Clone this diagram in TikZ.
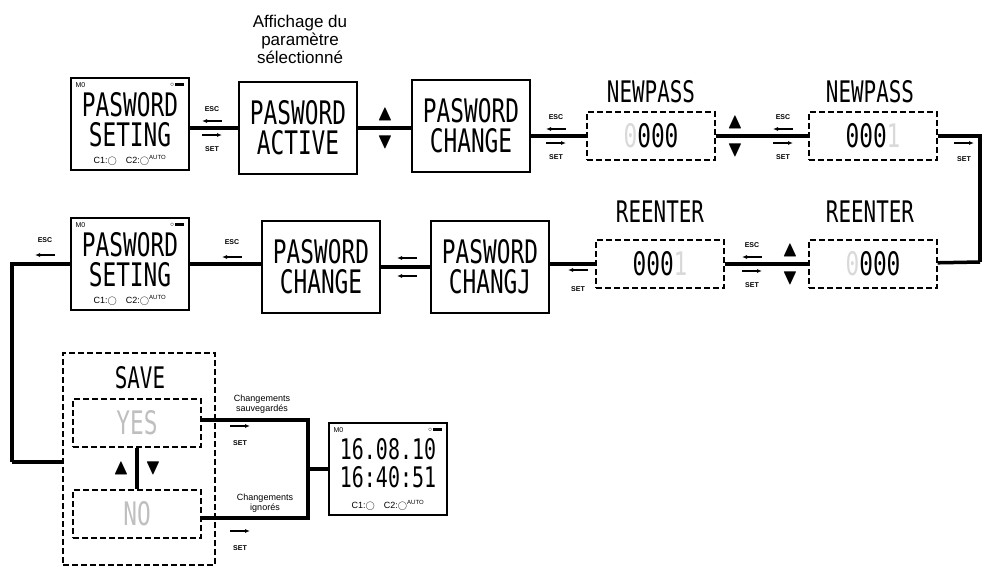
\documentclass[tikz,border=0pt]{standalone}
\usepackage{fontspec}
\setmainfont{Liberation Sans}
\newfontfamily\lcdfont{DejaVu Sans Mono}
\usepackage{amssymb}
\usetikzlibrary{positioning,arrows.meta}
\tikzset{
  screen/.style={draw,line width=1.2pt,minimum width=118pt,minimum height=92pt,inner sep=0pt},
  dscreen/.style={draw,dash pattern=on 6pt off 3pt,line width=1.2pt,minimum width=128pt,minimum height=48pt,inner sep=0pt},
  lcd/.style={font=\lcdfont\fontsize{24}{26}\selectfont,align=center},
  title/.style={font=\lcdfont\fontsize{22}{24}\selectfont},
  tag/.style={font=\bfseries\fontsize{7}{8}\selectfont},
  link/.style={line width=3.5pt},
  tip/.style={-{Latex[length=5pt,width=4pt]},line width=1.2pt},
  tri/.style={font=\fontsize{22}{22}\selectfont},
}
\newcommand{\tall}[1]{\scalebox{0.95}[1.35]{#1}}
% petites fleches ESC / SET
\newcommand{\escset}[2]{%
  \draw[tip] (#1+10,#2-7) -- (#1-10,#2-7);
  \node[tag] at (#1,#2-19) {ESC};
  \draw[tip] (#1-10,#2+7) -- (#1+10,#2+7);
  \node[tag] at (#1,#2+21) {SET};}
\newcommand{\updown}[2]{%
  \node[tri] at (#1,#2-14) {$\blacktriangle$};
  \node[tri] at (#1,#2+14) {$\blacktriangledown$};}
\newcommand{\extras}[2]{%
  \node[font=\fontsize{7}{8}\selectfont,anchor=north west] at (#1-58,#2-45) {M0};
  \node[font=\fontsize{7}{8}\selectfont,anchor=north east] at (#1+58,#2-45) {$\circ$\,\rule{9pt}{3.5pt}};
  \node[font=\fontsize{9}{10}\selectfont] at (#1,#2+36) {C1:$\bigcirc$\quad C2:$\bigcirc^{\rm\tiny AUTO}$};}
\begin{document}
\begin{tikzpicture}[x=1pt,y=-1pt]
\useasboundingbox (0,0) rectangle (995,570);

% ligne 1
\node[screen] (set1) at (130,124) {};
\node[lcd] at (130,120) {\tall{PASWORD}\\[4pt]\tall{SETING}};
\extras{130}{124}

\node[screen] (act) at (298,128) {};
\node[lcd] at (298,128) {\tall{PASWORD}\\[4pt]\tall{ACTIVE}};
\node[align=center,font=\fontsize{17}{18}\selectfont] at (300,39) {Affichage du\\paramètre\\sélectionné};

\node[screen] (chg1) at (471,126) {};
\node[lcd] at (471,126) {\tall{PASWORD}\\[4pt]\tall{CHANGE}};

\node[dscreen] (np1) at (651,136) {};
\node[lcd] at (651,136) {\tall{{\color{black!15}0}000}};
\node[title] at (651,92) {\tall{NEWPASS}};

\node[dscreen] (np2) at (873,136) {};
\node[lcd] at (873,136) {\tall{000{\color{black!15}1}}};
\node[title] at (870,92) {\tall{NEWPASS}};

\draw[link] (set1.east |- act) -- (act);
\draw[link] (act) -- (act -| chg1.west);
\draw[link] (chg1.east |- np1) -- (np1);
\draw[link] (np1) -- (np2);
\escset{212}{128}
\updown{385}{128}
\escset{556}{136}
\updown{735}{136}
\escset{783}{136}
\coordinate (c1) at (980,136);
\coordinate (c2) at (980,262);
\draw[link] (np2) -- (c1) -- (c2);
\draw[tip] (954,143) -- (974,143);
\node[tag] at (964,159) {SET};

% ligne 2
\node[dscreen] (re1) at (873,264) {};
\node[lcd] at (873,264) {\tall{{\color{black!15}0}000}};
\node[title] at (870,212) {\tall{REENTER}};

\node[dscreen] (re2) at (660,264) {};
\node[lcd] at (660,264) {\tall{000{\color{black!15}1}}};
\node[title] at (660,212) {\tall{REENTER}};

\node[screen] (chg3) at (490,267) {};
\node[lcd] at (490,267) {\tall{PASWORD}\\[4pt]\tall{CHANGJ}};

\node[screen] (chg2) at (321,267) {};
\node[lcd] at (321,267) {\tall{PASWORD}\\[4pt]\tall{CHANGE}};

\node[screen] (set2) at (130,264) {};
\node[lcd] at (130,260) {\tall{PASWORD}\\[4pt]\tall{SETING}};
\extras{130}{264}

\draw[link] (c2) -- (re1);
\draw[link] (re1) -- (re2);
\draw[link] (re2) -- (re2 -| chg3.east);
\draw[link] (chg3) -- (chg2);
\draw[link] (chg2.west |- set2) -- (set2);
\updown{790}{264}
\escset{752}{264}
\draw[tip] (588,270) -- (568,270);
\node[tag] at (578,289) {SET};
\draw[tip] (417,258) -- (397,258);
\draw[tip] (417,276) -- (397,276);
\draw[tip] (242,257) -- (222,257);
\node[tag] at (232,242) {ESC};
\coordinate (c3) at (12,264);
\coordinate (c4) at (12,462);
\draw[link] (set2) -- (c3) -- (c4);
\draw[tip] (55,255) -- (35,255);
\node[tag] at (45,240) {ESC};

% ligne 3
\node[draw,dash pattern=on 6pt off 3pt,line width=1.2pt,minimum width=152pt,minimum height=212pt] (save) at (139,459) {};
\node[title] at (140,378) {\tall{SAVE}};
\node[dscreen] (yes) at (137,423) {};
\node[lcd,text=black!25] at (137,423) {\tall{YES}};
\node[dscreen] (no) at (137,514) {};
\node[lcd,text=black!25] at (137,514) {\tall{NO}};
\draw[link] (c4) -- (c4 -| save.west);
\draw[link] (yes) -- (no);
\node[tri] at (121,468) {$\blacktriangle$};
\node[tri] at (153,468) {$\blacktriangledown$};

\coordinate (c5) at (308,420);
\coordinate (c6) at (308,518);
\coordinate (c7) at (308,469);
\draw[link] (yes.east |- c5) -- (c5) -- (c6) -- (no.east |- c6);
\node[screen] (clk) at (388,469) {};
\node[lcd,font=\lcdfont\fontsize{21}{22}\selectfont] at (388,463) {\tall{16.08.10}\\[6pt]\tall{16:40:51}};
\extras{388}{469}
\draw[link] (c7) -- (clk);

\node[align=center,font=\fontsize{9}{10}\selectfont] at (262,404) {Changements\\sauvegardés};
\node[align=center,font=\fontsize{9}{10}\selectfont] at (265,503) {Changements\\ignorés};
\draw[tip] (230,426) -- (250,426);
\node[tag] at (240,443) {SET};
\draw[tip] (230,531) -- (250,531);
\node[tag] at (240,548) {SET};
\end{tikzpicture}
\end{document}
